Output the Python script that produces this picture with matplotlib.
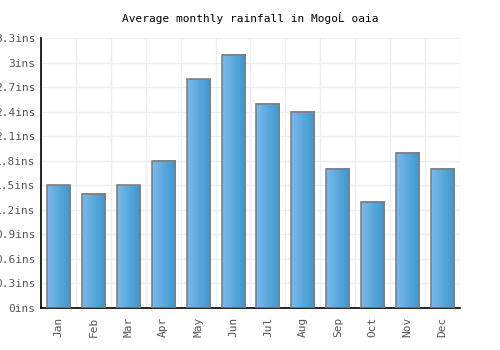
import matplotlib
matplotlib.use("Agg")
import matplotlib.pyplot as plt
import numpy as np
from matplotlib.colors import LinearSegmentedColormap

months = ["Jan", "Feb", "Mar", "Apr", "May", "Jun", "Jul", "Aug", "Sep", "Oct", "Nov", "Dec"]
rainfall = [1.5, 1.4, 1.5, 1.8, 2.8, 3.1, 2.5, 2.4, 1.7, 1.3, 1.9, 1.7]
yticks = [0, 0.3, 0.6, 0.9, 1.2, 1.5, 1.8, 2.1, 2.4, 2.7, 3.0, 3.3]
ytick_labels = ["0ins", "0.3ins", "0.6ins", "0.9ins", "1.2ins", "1.5ins", "1.8ins",
                "2.1ins", "2.4ins", "2.7ins", "3ins", "3.3ins"]
title = "Average monthly rainfall in MogoĹ oaia"

fig = plt.figure(figsize=(5, 3.5), dpi=100)
ax = fig.add_axes([0.082, 0.12, 0.838, 0.771])

x = np.arange(len(months))
bars = ax.bar(x, rainfall, width=0.66, facecolor="none", edgecolor="#808080", linewidth=1.2, zorder=3)

cmap = LinearSegmentedColormap.from_list("g", ["#7ab9ec", "#3a97cf"])
grad = np.linspace(0, 1, 64).reshape(1, -1)
for b in bars:
    x0, y0 = b.get_x(), b.get_y()
    w, h = b.get_width(), b.get_height()
    ax.imshow(grad, cmap=cmap, aspect="auto", extent=[x0, x0 + w, y0, y0 + h], zorder=2, interpolation="bilinear")

ax.set_xlim(-0.5, len(months) - 0.5)
ax.set_ylim(0, 3.3)
ax.set_yticks(yticks)
ax.set_yticklabels(ytick_labels)
ax.set_xticks(x)
ax.set_xticklabels(months, rotation=90)
ax.set_xticks(np.arange(-0.5, len(months), 1), minor=True)

ax.grid(True, which="major", axis="y", color="#eeeeee", linewidth=1, zorder=0)
ax.grid(True, which="minor", axis="x", color="#eeeeee", linewidth=1, zorder=0)
ax.set_axisbelow(True)

for s in ["top", "right"]:
    ax.spines[s].set_visible(False)
for s in ["left", "bottom"]:
    ax.spines[s].set_linewidth(1.2)
    ax.spines[s].set_color("black")

ax.tick_params(axis="both", which="both", length=0, labelsize=8, labelcolor="#555555")
ax.tick_params(axis="y", pad=4)
ax.tick_params(axis="x", pad=6)
for lab in ax.get_xticklabels() + ax.get_yticklabels():
    lab.set_fontfamily("DejaVu Sans Mono")

fig.text(0.5, 0.948, title, ha="center", va="center", fontsize=8, family="DejaVu Sans Mono", color="black")

fig.savefig("out.png", dpi=100, facecolor="white")
